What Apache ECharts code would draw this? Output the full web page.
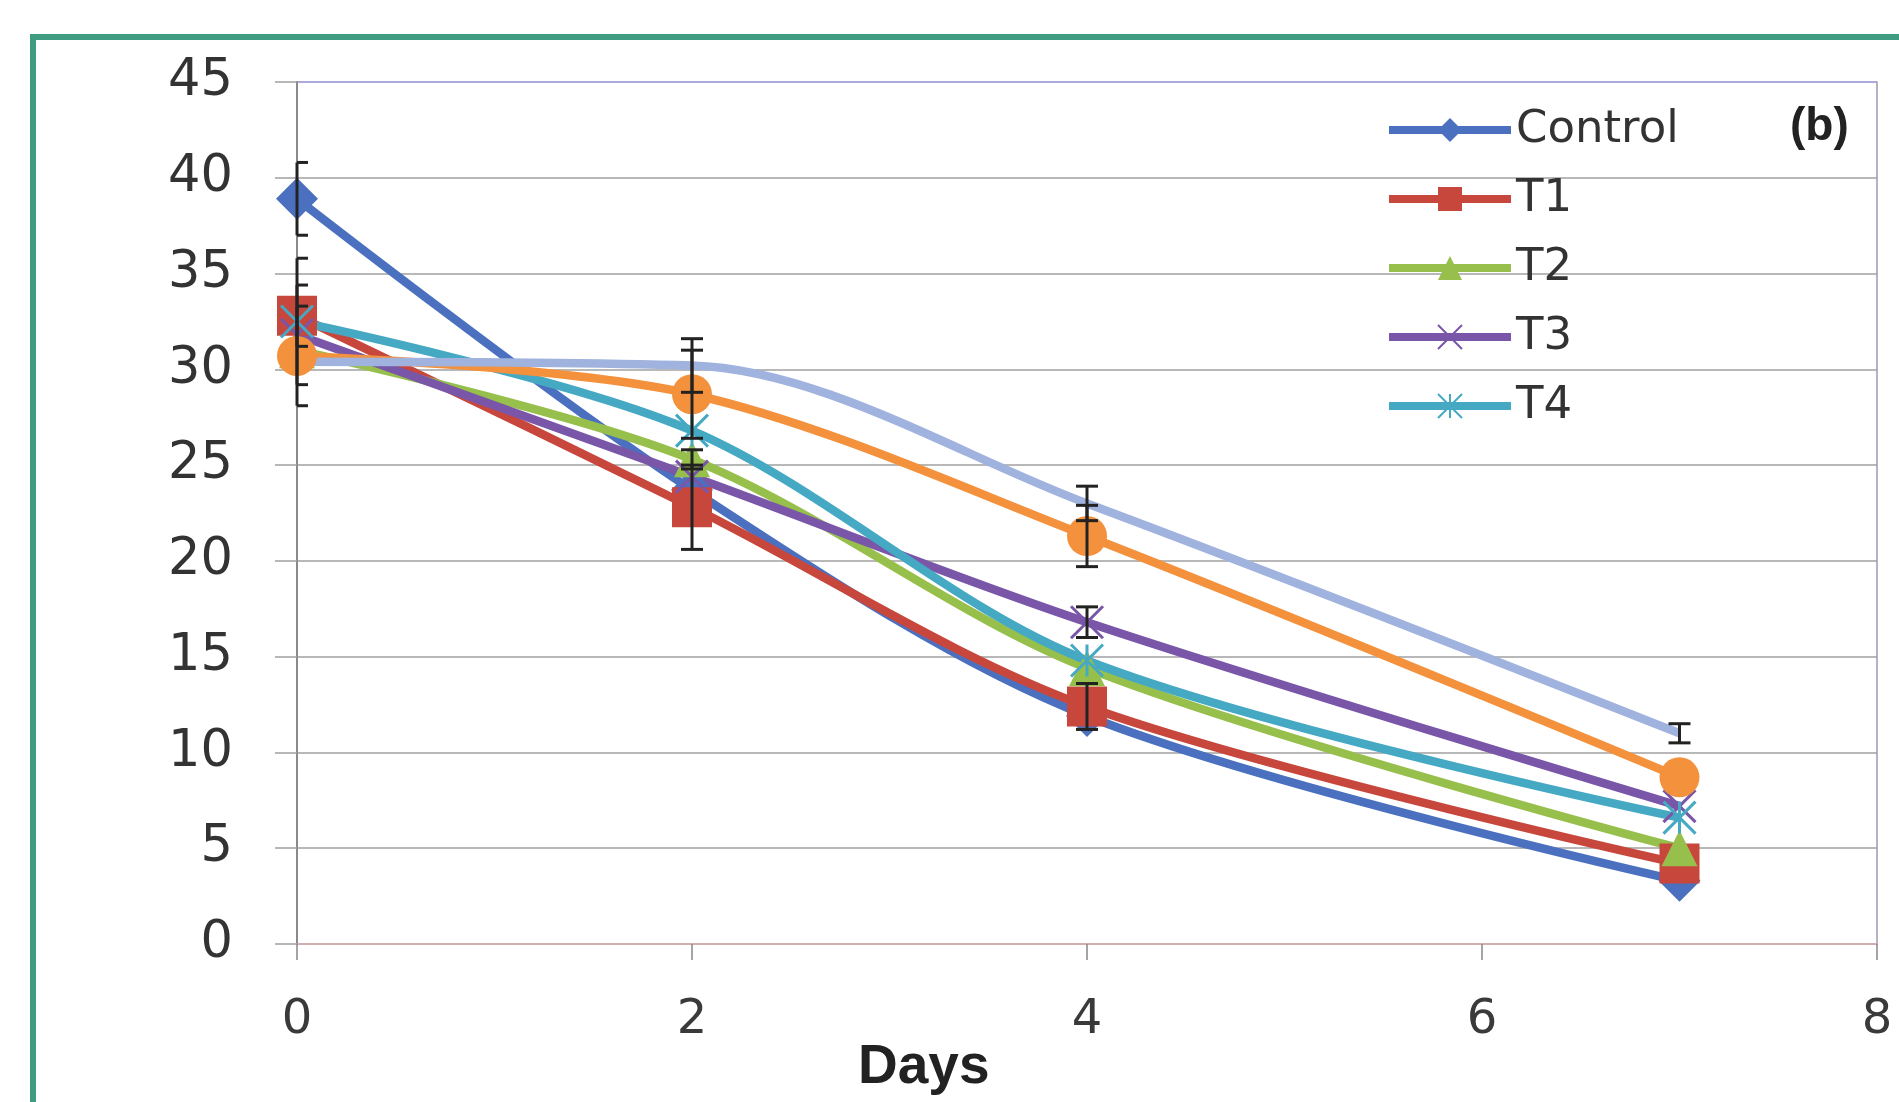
<!DOCTYPE html>
<html>
<head>
<meta charset="utf-8">
<script src="https://cdn.jsdelivr.net/npm/echarts@6/dist/echarts.min.js"></script>
<style>
html, body { margin: 0; padding: 0; background: #fff; }
#main { width: 1899px; height: 1102px; }
</style>
</head>
<body>
<div id="main"></div>
<script>
// days and treatment values
var days = [0, 2, 4, 7];
var control = [38.9, 23.7, 11.9, 3.3];
var t1 = [32.8, 22.8, 12.4, 4.2];
var t2 = [31.0, 25.3, 14.4, 5.0];
var t3 = [31.8, 24.4, 16.8, 7.2];
var t4 = [32.5, 26.8, 14.8, 6.6];
var t5 = [30.7, 28.7, 21.3, 8.7];   // orange, not in legend
var t6 = [30.4, 30.2, 23.0, 11.0];  // light blue, not in legend
var yTicks = [0, 5, 10, 15, 20, 25, 30, 35, 40, 45];
var xTicks = [0, 2, 4, 6, 8];

// error bars: [day, low, high]
var errBars = [
  [0, 37.0, 40.8], [0, 31.2, 34.4], [0, 29.2, 35.8], [0, 28.1, 33.3],
  [2, 20.6, 25.0], [2, 24.8, 25.8], [2, 26.4, 31.0], [2, 28.8, 31.6],
  [4, 11.2, 13.6], [4, 16.0, 17.6], [4, 19.7, 22.9], [4, 22.1, 23.9],
  [7, 10.5, 11.5]
];

function pairs(arr) {
  return days.map(function (d, i) { return [d, arr[i]]; });
}

var numFont = '"DejaVu Sans"';

function lineSeries(name, data, color, symbol, size, extra) {
  var s = {
    name: name,
    type: 'line',
    data: pairs(data),
    smooth: 0.32,
    symbol: symbol,
    symbolSize: size,
    symbolKeepAspect: true,
    lineStyle: { color: color, width: 8.5 },
    itemStyle: { color: color },
    emphasis: { disabled: true },
    animation: false
  };
  if (extra) {
    for (var k in extra) s[k] = extra[k];
  }
  return s;
}

function renderErr(params, api) {
  var x = api.value(0);
  var pLo = api.coord([x, api.value(1)]);
  var pHi = api.coord([x, api.value(2)]);
  var cs = params.coordSys;
  var half = 11;
  var l = Math.max(pLo[0] - half, cs.x);
  var r = Math.min(pLo[0] + half, cs.x + cs.width);
  var st = { stroke: '#222', lineWidth: 3 };
  return {
    type: 'group',
    children: [
      { type: 'line', shape: { x1: pLo[0], y1: pLo[1], x2: pHi[0], y2: pHi[1] }, style: st },
      { type: 'line', shape: { x1: l, y1: pLo[1], x2: r, y2: pLo[1] }, style: st },
      { type: 'line', shape: { x1: l, y1: pHi[1], x2: r, y2: pHi[1] }, style: st }
    ]
  };
}

var chart = echarts.init(document.getElementById('main'));

var gridColors = yTicks.map(function (v, i) {
  if (i === 0) return '#cfa9a9';
  if (i === yTicks.length - 1) return '#8e8ed0';
  return '#a0a0a0';
});

var option = {
  backgroundColor: '#ffffff',
  animation: false,
  grid: { left: 297, right: 22, top: 82, bottom: 158, containLabel: false },
  legend: {
    orient: 'vertical',
    left: 1380,
    top: 102,
    itemWidth: 122,
    itemHeight: 30,
    itemGap: 23,
    lineStyle: { width: 8 },
    data: ['Control', 'T1', 'T2', 'T3', 'T4'],
    textStyle: { fontFamily: numFont, fontSize: 45, lineHeight: 46, color: '#333' }
  },
  xAxis: {
    type: 'value',
    min: 0,
    max: 8,
    interval: 2,
    axisLine: { show: true, lineStyle: { color: '#cfa9a9', width: 1.5 } },
    axisTick: { show: true, length: 16, lineStyle: { color: '#888', width: 1.5 } },
    splitLine: { show: false },
    axisLabel: {
      fontFamily: numFont, fontSize: 48, color: '#3a3a3a', margin: 53,
      formatter: function (v) { return xTicks.indexOf(v) >= 0 ? String(v) : ''; }
    }
  },
  yAxis: [{
    type: 'value',
    min: 0,
    max: 45,
    interval: 5,
    axisLine: { show: true, lineStyle: { color: '#8a8a8a', width: 2 } },
    axisTick: { show: true, length: 22, lineStyle: { color: '#a0a0a0', width: 1.5 } },
    splitLine: { show: true, lineStyle: { color: gridColors, width: 1.5 } },
    axisLabel: { fontFamily: numFont, fontSize: 51, color: '#333', margin: 64 }
  }, {
    type: 'value',
    position: 'right',
    min: 0,
    max: 45,
    interval: 5,
    axisLine: { show: true, lineStyle: { color: '#9a9ab0', width: 1.5 } },
    axisTick: { show: false },
    axisLabel: { show: false },
    splitLine: { show: false }
  }],
  graphic: [
    {
      type: 'rect',
      shape: { x: 33, y: 37, width: 1950, height: 1150 },
      style: { fill: 'none', stroke: '#3f9c80', lineWidth: 6 },
      silent: true
    },
    {
      type: 'text',
      left: 858,
      top: 1040,
      style: { text: 'Days', font: 'bold 55px "Liberation Sans"', fill: '#222' }
    },
    {
      type: 'text',
      left: 1790,
      top: 104,
      style: { text: '(b)', font: 'bold 46px "Liberation Sans"', fill: '#222' }
    }
  ],
  series: [
    lineSeries('Control', control, '#4a70bf', 'diamond', 42),
    lineSeries('T1', t1, '#c8473d', 'rect', 40),
    lineSeries('T2', t2, '#97bf4c', 'triangle', 36),
    lineSeries('T3', t3, '#7a56a8', 'path://M0,0L10,10M10,0L0,10', 32, {
      itemStyle: { color: 'rgba(0,0,0,0)', borderColor: '#7a56a8', borderWidth: 3 }
    }),
    lineSeries('T4', t4, '#45a9c3', 'path://M5,0L5,10M0,0L10,10M10,0L0,10', 32, {
      itemStyle: { color: 'rgba(0,0,0,0)', borderColor: '#45a9c3', borderWidth: 3 }
    }),
    lineSeries('T5', t5, '#f3913c', 'circle', 40),
    lineSeries('T6', t6, '#a0b2de', 'none', 0, { showSymbol: false }),
    {
      name: 'err',
      type: 'custom',
      renderItem: renderErr,
      data: errBars,
      encode: { x: 0, y: [1, 2] },
      z: 5,
      silent: true,
      animation: false
    }
  ]
};

chart.setOption(option);
</script>
</body>
</html>
